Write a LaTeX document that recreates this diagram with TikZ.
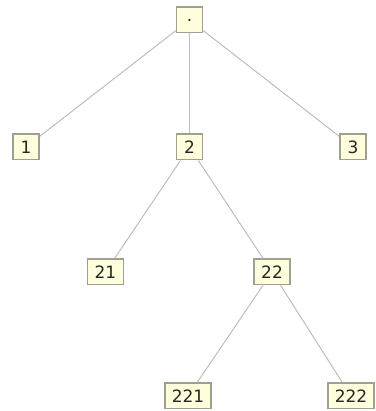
\documentclass[tikz,border=0pt]{standalone}
\usepackage{fontspec}
\setmainfont{DejaVu Sans}
\definecolor{boxfill}{HTML}{FFFFDD}
\definecolor{boxline}{HTML}{A0A090}
\definecolor{edgeline}{HTML}{BDBDBD}
\begin{document}
\begin{tikzpicture}[x=1pt,y=1pt,
  tnode/.style={draw=boxline, line width=1.5pt, fill=boxfill, inner xsep=7pt, inner ysep=0pt,
    minimum width=26pt, minimum height=25.5pt, font=\fontsize{17}{20}\selectfont, text=black!85},
  tedge/.style={draw=edgeline, line width=1pt}]
\useasboundingbox (0,0) rectangle (375,411);
\node[tnode] (r) at (189.5,391) {.};
\node[tnode] (n1) at (26,264) {1};
\node[tnode] (n2) at (189.5,264) {2};
\node[tnode] (n3) at (353,264) {3};
\node[tnode] (n21) at (105.5,139) {21};
\node[tnode] (n22) at (272,139) {22};
\node[tnode] (n221) at (188,15) {221};
\node[tnode] (n222) at (351,15) {222};
\draw[tedge] (r) -- (n1);
\draw[tedge] (r) -- (n2);
\draw[tedge] (r) -- (n3);
\draw[tedge] (n2) -- (n21);
\draw[tedge] (n2) -- (n22);
\draw[tedge] (n22) -- (n221);
\draw[tedge] (n22) -- (n222);
\end{tikzpicture}
\end{document}
